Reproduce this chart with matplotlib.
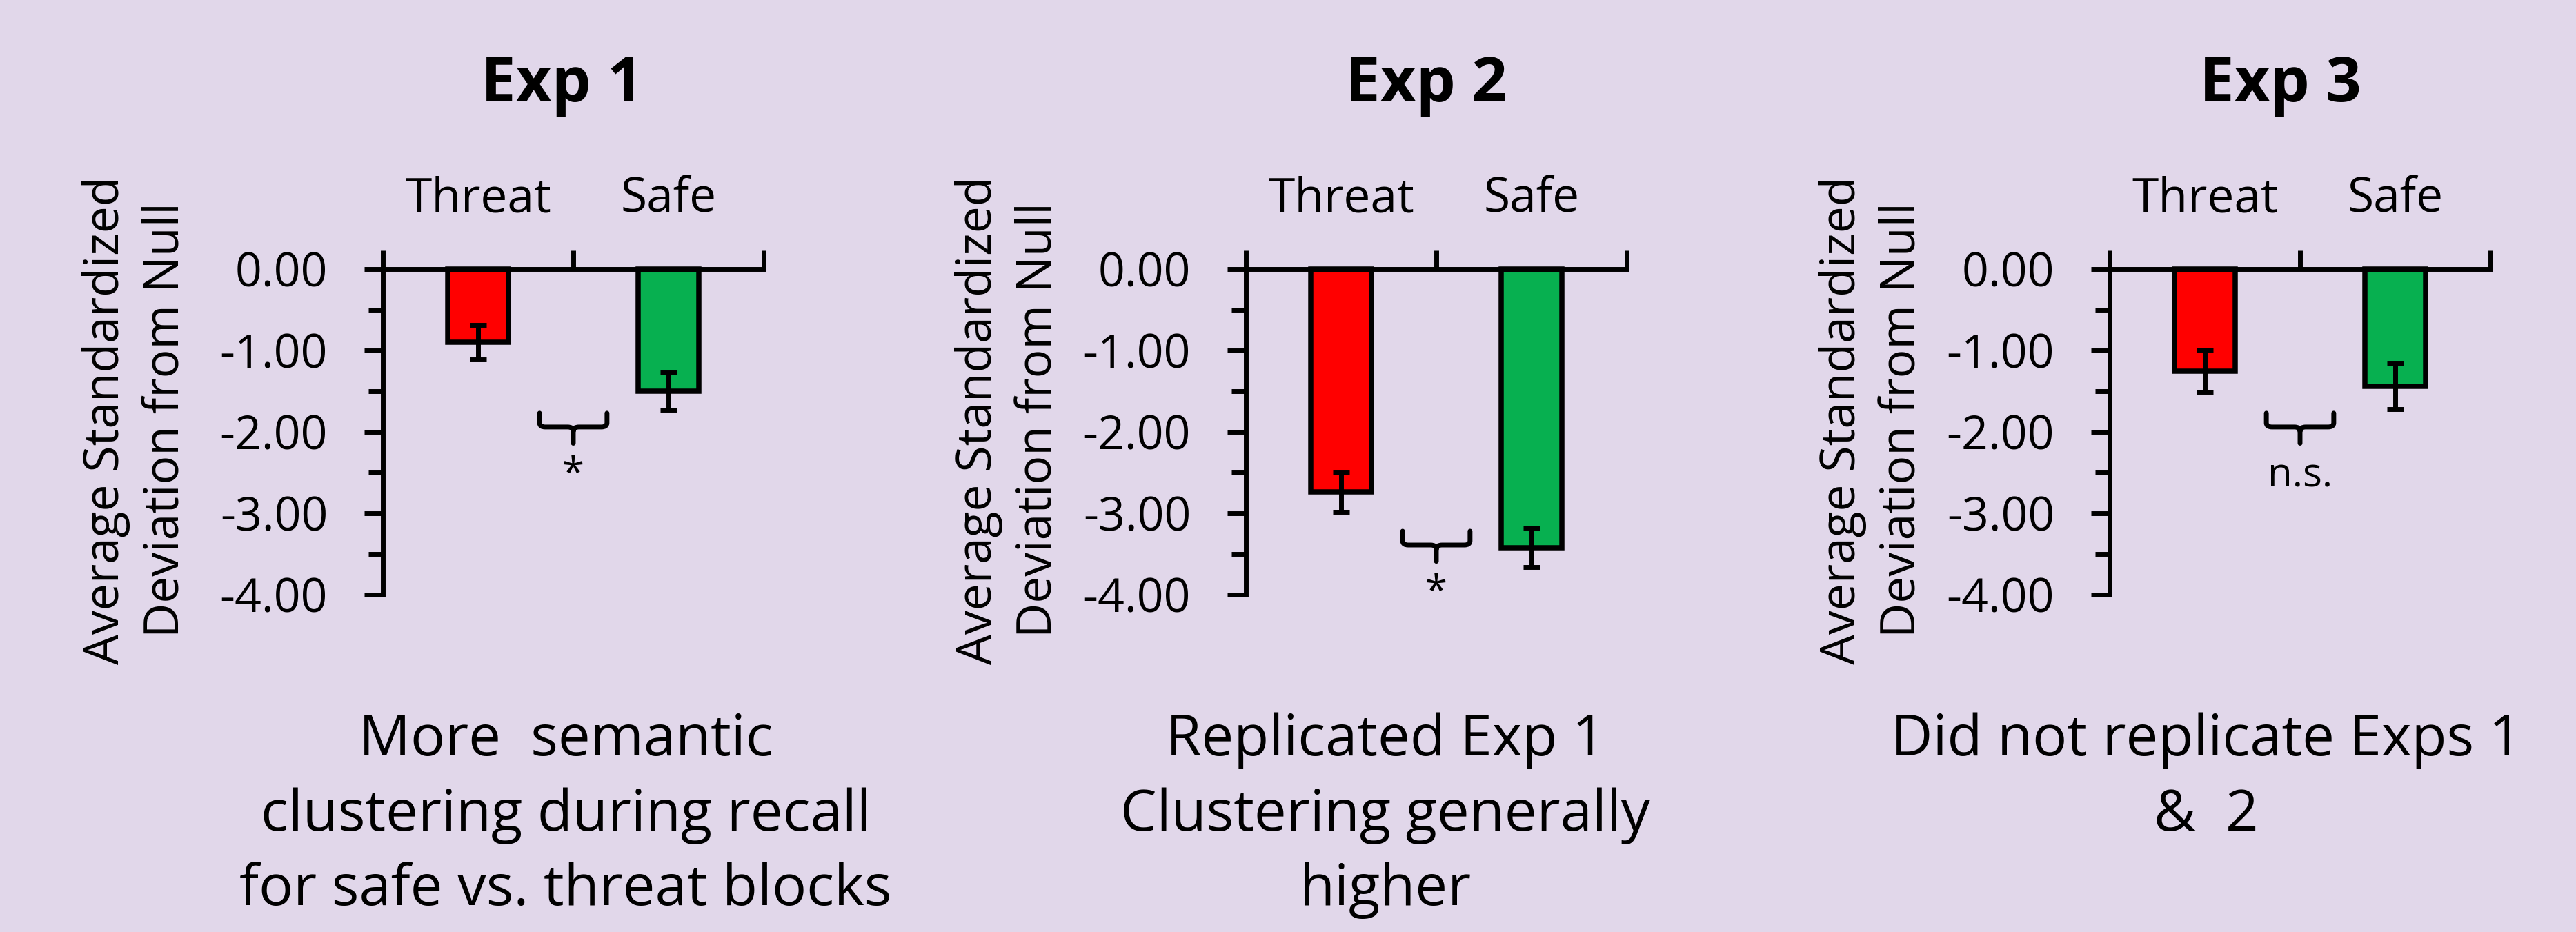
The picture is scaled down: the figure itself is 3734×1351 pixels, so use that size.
import matplotlib
matplotlib.use('Agg')
import matplotlib.pyplot as plt
import numpy as np
from matplotlib.path import Path
from matplotlib.patches import PathPatch
from matplotlib.ticker import FixedLocator, MultipleLocator, StrMethodFormatter

# ---------------- data ----------------
experiments = ['Exp 1', 'Exp 2', 'Exp 3']
conditions = ['Threat', 'Safe']
threat_means = [-0.90, -2.74, -1.25]
threat_errors = [0.21, 0.24, 0.26]
safe_means = [-1.50, -3.42, -1.44]
safe_errors = [0.23, 0.24, 0.28]
significance = ['*', '*', 'n.s.']
bracket_levels = [-1.77, -3.22, -1.77]
captions = [
    ['More  semantic', 'clustering during recall', 'for safe vs. threat blocks'],
    ['Replicated Exp 1', 'Clustering generally', 'higher'],
    ['Did not replicate Exps 1', '&  2'],
]
y_ticks = [0, -1, -2, -3, -4]
y_label = 'Average Standardized\nDeviation from Null'

# ---------------- style ----------------
BG = '#E1D7EA'
RED = '#FF0000'
GREEN = '#07B050'
FONT = ['Open Sans', 'DejaVu Sans']
plt.rcParams['font.family'] = FONT
plt.rcParams['axes.unicode_minus'] = False

W, H = 3734, 1351
fig = plt.figure(figsize=(W / 100, H / 100), dpi=100, facecolor=BG)

axes_left_px = [555, 1806, 3058]
ax_w = 552 / W
ax_b = (H - 862) / H
ax_h = (862 - 390) / H
ylabel_x = [-0.505, -0.48, -0.48]

title_x_px = [814, 2067, 3305]
caption_x_px = [820, 2008, 3198]
caption_base_px = [1095, 1204, 1312]

for i in range(3):
    ax = fig.add_axes([axes_left_px[i] / W, ax_b, ax_w, ax_h])
    ax.set_facecolor('none')
    x = np.arange(len(conditions))
    vals = [threat_means[i], safe_means[i]]
    errs = [threat_errors[i], safe_errors[i]]
    ax.bar(x, vals, width=0.32, color=[RED, GREEN], edgecolor='black',
           linewidth=5.4, zorder=2, clip_on=False)
    ax.errorbar(x, vals, yerr=errs, fmt='none', ecolor='black', elinewidth=5,
                capsize=8.6, capthick=5, zorder=3)
    ax.set_xlim(-0.5, 1.5)
    ax.set_ylim(-4, 0)

    for s in ['right', 'bottom']:
        ax.spines[s].set_visible(False)
    for s in ['left', 'top']:
        ax.spines[s].set_linewidth(5)
        ax.spines[s].set_zorder(4)

    ax.xaxis.set_ticks_position('top')
    ax.set_xticks([-0.5, 0.5, 1.5])
    ax.set_xticklabels([])
    ax.set_xticks(x, minor=True)
    ax.set_xticklabels(conditions, minor=True)
    ax.tick_params(axis='x', which='major', direction='out', length=19.5, width=5,
                   top=True, bottom=False, labeltop=False, labelbottom=False)
    ax.tick_params(axis='x', which='minor', length=0, top=True, bottom=False,
                   labeltop=True, labelbottom=False, pad=47, labelsize=50)

    ax.yaxis.set_major_locator(FixedLocator(y_ticks))
    ax.yaxis.set_minor_locator(MultipleLocator(0.5))
    ax.yaxis.set_major_formatter(StrMethodFormatter('{x:.2f}'))
    ax.tick_params(axis='y', which='major', direction='out', length=19.5, width=5,
                   pad=38, labelsize=49)
    ax.tick_params(axis='y', which='minor', direction='out', length=15, width=5)

    ax.set_ylabel(y_label, fontsize=50, linespacing=1.32)
    ax.yaxis.set_label_coords(ylabel_x[i], 0.536)

    # significance bracket
    c, w = 0.5, 0.177
    y0 = bracket_levels[i]
    y1 = y0 - 0.17
    y2 = y0 - 0.37
    r, ry = 0.03, 0.05
    verts = [
        (c - w, y0), (c - w, y1 + ry), (c - w, y1), (c - w + r, y1),
        (c - r, y1), (c, y1), (c, y1 - ry), (c, y2),
        (c + w, y0), (c + w, y1 + ry), (c + w, y1), (c + w - r, y1),
        (c + r, y1), (c, y1), (c, y1 - ry),
    ]
    codes = [
        Path.MOVETO, Path.LINETO, Path.CURVE3, Path.CURVE3,
        Path.LINETO, Path.CURVE3, Path.CURVE3, Path.LINETO,
        Path.MOVETO, Path.LINETO, Path.CURVE3, Path.CURVE3,
        Path.LINETO, Path.CURVE3, Path.CURVE3,
    ]
    ax.add_patch(PathPatch(Path(verts, codes), facecolor='none', edgecolor='black',
                           linewidth=5, capstyle='round', joinstyle='round',
                           clip_on=False, zorder=3))
    ax.text(c, y0 - 0.9, significance[i], ha='center', va='baseline',
            fontsize=42, clip_on=False)

    fig.text(title_x_px[i] / W, (H - 147) / H, experiments[i], ha='center',
             va='baseline', fontsize=65, fontweight='bold')
    for j, line in enumerate(captions[i]):
        fig.text(caption_x_px[i] / W, (H - caption_base_px[j]) / H, line,
                 ha='center', va='baseline', fontsize=60)

fig.savefig('out.png', dpi=100, facecolor=BG)
